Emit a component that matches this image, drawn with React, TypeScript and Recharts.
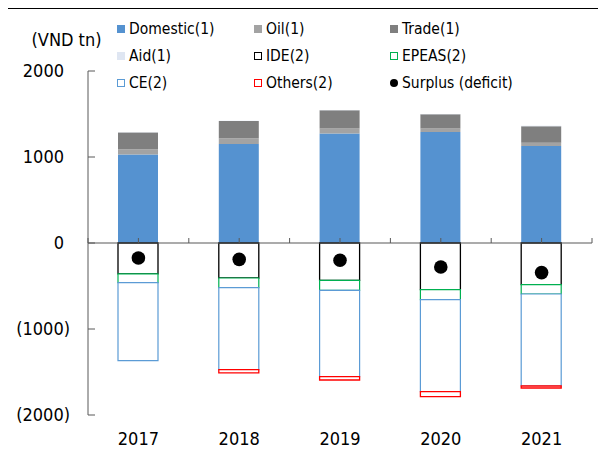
import React from 'react';
import { ComposedChart, Bar, Line, XAxis, YAxis, ReferenceLine, Legend } from 'recharts';

const years = ['2017', '2018', '2019', '2020', '2021'];
const domestic = [1028, 1151, 1272, 1291, 1128];
const oil = [62, 66, 58, 39, 39];
const trade = [194, 201, 213, 167, 192];
const aid = [4, 4, 4, 4, 4];
const ide = [-360, -407, -434, -542, -484];
const epeas = [-100, -112, -116, -116, -109];
const ce = [-907, -953, -1003, -1070, -1070];
const others = [0, -39, -40, -58, -23];
const surplus = [-174, -190, -201, -279, -344];
const yTicks = [-2000, -1000, 0, 1000, 2000];

const data = years.map((year, i) => ({
  year,
  domestic: domestic[i],
  oil: oil[i],
  trade: trade[i],
  aid: aid[i],
  ide: ide[i],
  epeas: epeas[i],
  ce: ce[i],
  others: others[i],
  surplus: surplus[i],
}));

const FONT = "'DejaVu Sans Condensed', 'DejaVu Sans', sans-serif";
const W = 606;
const H = 450;
const M = { top: 71, right: 14, bottom: 0, left: 0 };
const Y_W = 88;
const X_H = 35;
const PLOT_LEFT = M.left + Y_W;
const PLOT_W = W - M.right - PLOT_LEFT;
const PLOT_TOP = M.top;
const PLOT_H = H - M.bottom - X_H - PLOT_TOP;
const AXIS_COLOR = '#595959';

type Series = { key: string; name: string; fill: string; stroke: string; sw: number; outline: boolean };
const series: Series[] = [
  { key: 'domestic', name: 'Domestic(1)', fill: '#5592d0', stroke: 'none', sw: 0, outline: false },
  { key: 'oil', name: 'Oil(1)', fill: '#a3a3a3', stroke: 'none', sw: 0, outline: false },
  { key: 'trade', name: 'Trade(1)', fill: '#7f7f7f', stroke: 'none', sw: 0, outline: false },
  { key: 'aid', name: 'Aid(1)', fill: '#dfe6f2', stroke: 'none', sw: 0, outline: false },
  { key: 'ide', name: 'IDE(2)', fill: '#ffffff', stroke: '#000000', sw: 1.3, outline: true },
  { key: 'epeas', name: 'EPEAS(2)', fill: '#ffffff', stroke: '#00b050', sw: 1.2, outline: true },
  { key: 'ce', name: 'CE(2)', fill: '#ffffff', stroke: '#5b9bd5', sw: 1.2, outline: true },
  { key: 'others', name: 'Others(2)', fill: '#ffffff', stroke: '#ff0000', sw: 1.3, outline: true },
];
const legendItems = [
  ...series.map((s) => ({ name: s.name, fill: s.fill, stroke: s.stroke, outline: s.outline, circle: false })),
  { name: 'Surplus (deficit)', fill: '#000000', stroke: 'none', outline: false, circle: true },
];
const legendColX = [117, 254, 390];
const legendRowY = [28.5, 56, 83];

const renderLegend = () => (
  <div style={{ position: 'relative', width: W, height: 100, fontFamily: FONT, fontSize: 15.5, color: '#000' }}>
    {legendItems.map((it, i) => {
      const col = i % 3;
      const row = Math.floor(i / 3);
      const cx = legendColX[col];
      const cy = legendRowY[row];
      return (
        <div key={it.name}>
          <div
            style={{
              position: 'absolute',
              left: cx,
              top: cy - 4,
              width: it.outline ? 6 : 8,
              height: it.outline ? 6 : 8,
              background: it.fill,
              border: it.outline ? `1px solid ${it.stroke}` : 'none',
              borderRadius: it.circle ? '50%' : 0,
            }}
          />
          <div
            style={{
              position: 'absolute',
              left: cx + 12,
              top: cy - 10,
              height: 20,
              lineHeight: '20px',
              whiteSpace: 'nowrap',
            }}
          >
            {it.name}
          </div>
        </div>
      );
    })}
  </div>
);

const XTick = (props: any) => {
  const { x, y, payload, index } = props;
  const band = PLOT_W / years.length;
  const zeroY = PLOT_TOP + PLOT_H / 2;
  return (
    <g>
      <line x1={x} x2={x} y1={zeroY - 5} y2={zeroY} stroke={AXIS_COLOR} strokeWidth={1} />
      <line x1={x - band / 2} x2={x - band / 2} y1={zeroY - 5} y2={zeroY} stroke={AXIS_COLOR} strokeWidth={1} />
      {index === years.length - 1 && (
        <line x1={x + band / 2} x2={x + band / 2} y1={zeroY - 5} y2={zeroY} stroke={AXIS_COLOR} strokeWidth={1} />
      )}
      <text x={x} y={y + 24} textAnchor="middle" dy="0.35em" fontFamily={FONT} fontSize={18} fill="#000">
        {payload.value}
      </text>
    </g>
  );
};

const YTick = (props: any) => {
  const { x, y, payload } = props;
  const v = payload.value as number;
  const label = v < 0 ? `(${Math.abs(v)})` : `${v}`;
  return (
    <g>
      <line x1={x} x2={x + 7} y1={y} y2={y} stroke={AXIS_COLOR} strokeWidth={1} />
      <text x={v < 0 ? x - 18 : x - 24} y={y} dy="0.35em" textAnchor="end" fontFamily={FONT} fontSize={18} fill="#000">
        {label}
      </text>
    </g>
  );
};

export default function App() {
  return (
    <div style={{ position: 'relative', width: W, height: H, marginTop: -8, marginLeft: -8, background: '#fff', overflow: 'hidden' }}>
      <div style={{ position: 'absolute', left: 0, top: 5, width: W, height: 4, background: '#000' }} />
      <div style={{ position: 'absolute', left: 0, top: 0 }}>
        <ComposedChart width={W} height={H} data={data} margin={M} stackOffset="sign" barSize={40}>
          <YAxis
            type="number"
            domain={[-2000, 2000]}
            ticks={yTicks}
            interval={0}
            width={Y_W}
            tickSize={0}
            tickMargin={0}
            tickLine={false}
            axisLine={{ stroke: AXIS_COLOR, strokeWidth: 1 }}
            tick={<YTick />}
            label={{
              content: () => (
                <text x={31.5} y={40} dy="0.35em" fontFamily={FONT} fontSize={18} fill="#000">
                  (VND tn)
                </text>
              ),
            }}
          />
          {series.map((s) => (
            <Bar
              key={s.key}
              dataKey={s.key}
              name={s.name}
              stackId="a"
              fill={s.fill}
              stroke={s.stroke}
              strokeWidth={s.sw}
              isAnimationActive={false}
            />
          ))}
          <ReferenceLine y={0} stroke={AXIS_COLOR} strokeWidth={1.2} />
          <Line
            dataKey="surplus"
            name="Surplus (deficit)"
            stroke="none"
            dot={{ r: 6.8, fill: '#000', stroke: 'none' }}
            activeDot={false}
            isAnimationActive={false}
          />
          <XAxis
            dataKey="year"
            type="category"
            height={X_H}
            interval={0}
            tickSize={0}
            tickMargin={0}
            tickLine={false}
            axisLine={false}
            tick={<XTick />}
          />
          <Legend
            layout="horizontal"
            verticalAlign="middle"
            align="center"
            width={W}
            height={100}
            wrapperStyle={{ top: 0, left: 0 }}
            content={renderLegend}
          />
        </ComposedChart>
      </div>
    </div>
  );
}
